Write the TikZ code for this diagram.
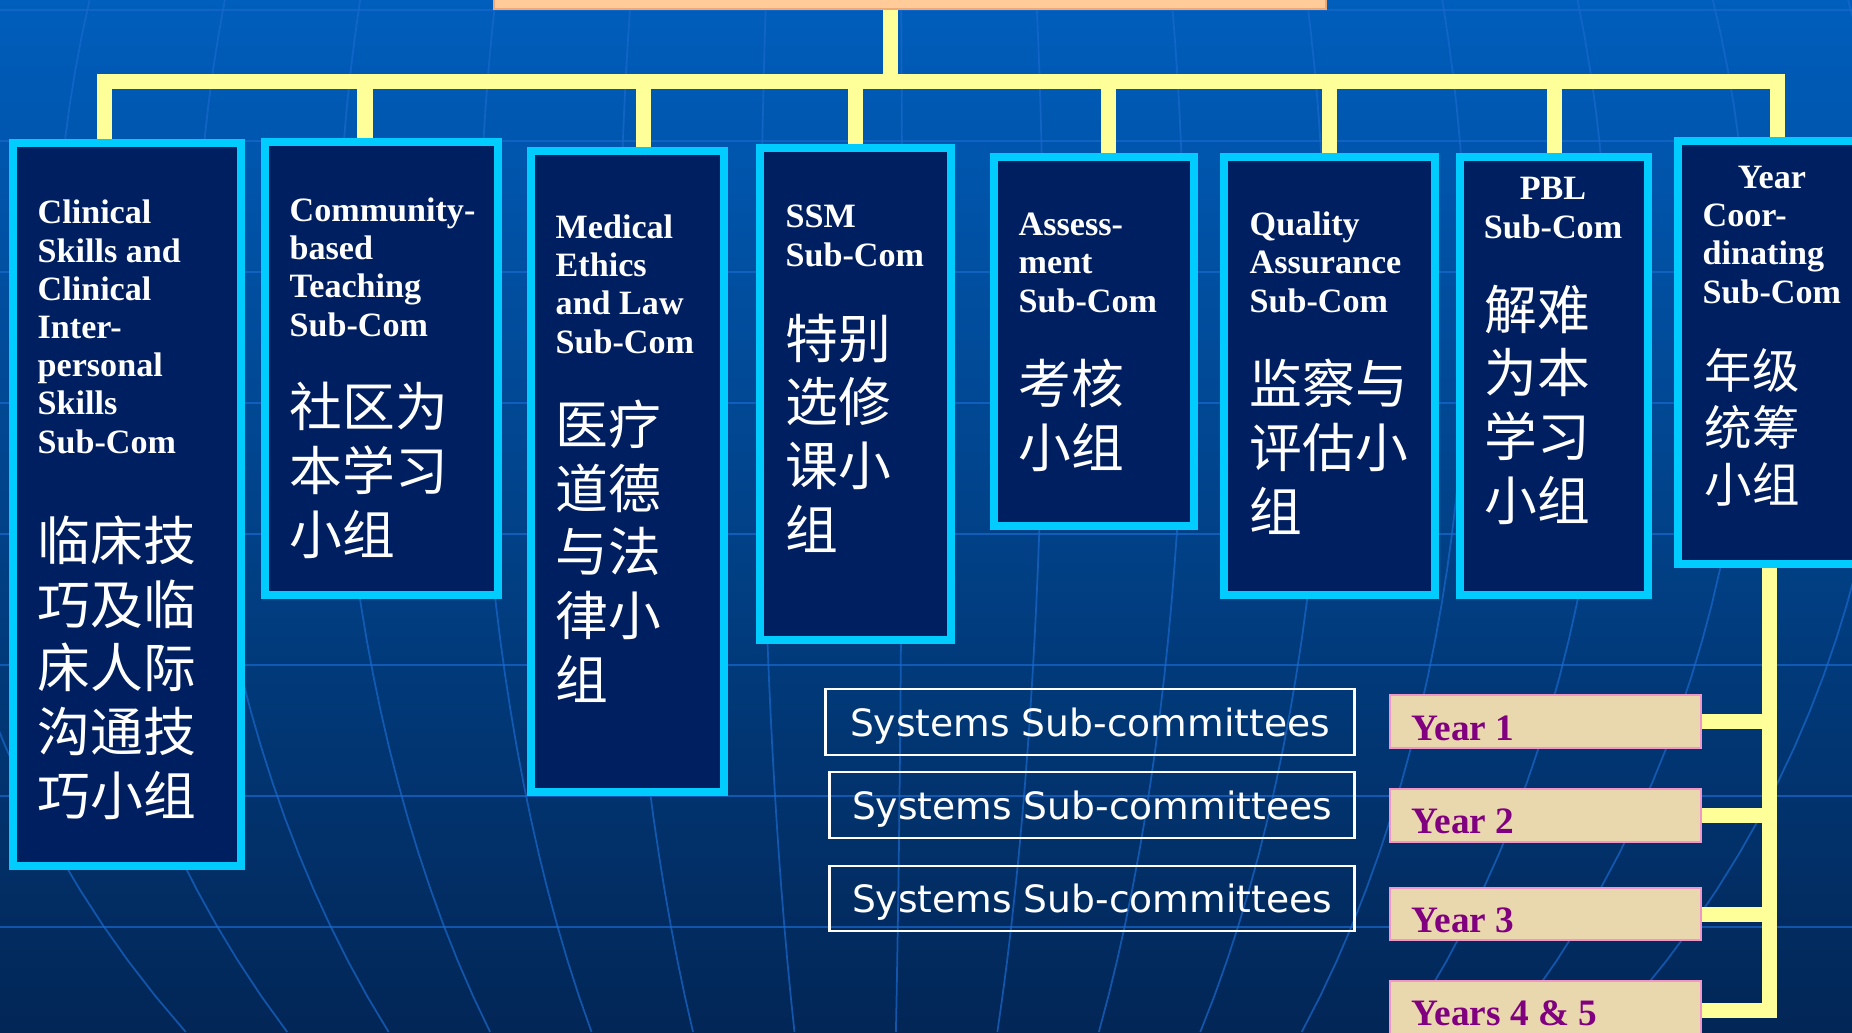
\documentclass[tikz,border=0pt]{standalone}
\usepackage{fontspec}
\usepackage{tikz}
\usetikzlibrary{calc}
\newfontfamily\enfont{Liberation Serif}
\newfontfamily\zhfont{Noto Sans CJK SC}
\newfontfamily\sysfont{DejaVu Sans}

\definecolor{bgtop}{RGB}{0,94,188}
\definecolor{bgbot}{RGB}{2,38,86}
\definecolor{gridblue}{RGB}{25,105,205}
\definecolor{navy}{RGB}{0,31,96}
\definecolor{cyanb}{RGB}{0,204,255}
\definecolor{linkyellow}{RGB}{255,255,153}
\definecolor{peach}{RGB}{255,204,153}
\definecolor{peachb}{RGB}{235,170,120}
\definecolor{sand}{RGB}{233,216,174}
\definecolor{pinkb}{RGB}{240,150,200}
\definecolor{plum}{RGB}{128,0,128}

\tikzset{
  subcom/.style={draw=cyanb, fill=navy, line width=0.08cm, inner sep=0pt},
  entext/.style={text=white, inner sep=0pt, align=left,
    font=\enfont\bfseries\fontsize{9.7}{10.86}\selectfont},
  zhtext/.style={text=white, inner sep=0pt, align=left,
    font=\zhfont\fontsize{15}{18.1}\selectfont},
  sysbox/.style={draw=white, line width=0.8pt, text=white, minimum height=0.66cm,
    inner sep=0pt, text depth=0pt, font=\sysfont\fontsize{10.7}{12}\selectfont},
  yearbox/.style={draw=pinkb, fill=sand, line width=0.6pt, minimum width=3.11cm, inner sep=0pt},
  yeartext/.style={text=plum, inner sep=0pt, font=\enfont\bfseries\fontsize{10.6}{12}\selectfont},
  link/.style={draw=linkyellow, line width=0.15cm},
}

\begin{document}
\begin{tikzpicture}[x=0.01cm, y=-0.01cm]
    \useasboundingbox (0,0) rectangle (1852,1032);
    \clip (0,0) rectangle (1852,1032);

    % backdrop
    \fill[top color=bgtop, bottom color=bgbot] (0,0) rectangle (1852,1032);
    \begin{scope}[draw=gridblue, line width=0.5pt, opacity=0.7]
        \foreach \yy in {10,141,...,1060}
            \draw (0,\yy) -- (1852,\yy);
        \foreach \s in {-0.917,-0.783,...,0.96}
            \draw plot[domain=0:1032, samples=30, variable=\t]
                ({100*(8.8+\s*sqrt(110.9-(\t/100-3)^2))}, \t);
    \end{scope}

    % top box (cut off)
    \node[draw=peachb, fill=peach, line width=0.6pt, minimum width=8.32cm, minimum height=0.7cm] (top) at (910,-26) {};

    % sub-committees
    \node[subcom, minimum width=2.28cm, minimum height=7.23cm] (clin) at (127,504.5) {};
    \node[subcom, minimum width=2.33cm, minimum height=4.53cm] (comm) at (381.5,368.5) {};
    \node[subcom, minimum width=1.93cm, minimum height=6.41cm] (med) at (627.5,471.5) {};
    \node[subcom, minimum width=1.91cm, minimum height=4.92cm] (ssm) at (855.5,394) {};
    \node[subcom, minimum width=2.00cm, minimum height=3.69cm] (assm) at (1094,341.5) {};
    \node[subcom, minimum width=2.11cm, minimum height=4.38cm] (qa) at (1329.5,376) {};
    \node[subcom, minimum width=1.88cm, minimum height=4.38cm] (pbl) at (1554,376) {};
    \node[subcom, minimum width=1.88cm, minimum height=4.23cm] (yrco) at (1772,352.5) {};

    % texts sit on the baseline of their last line
    \node[entext, anchor=base west] (clin-en) at (37,453) {Clinical\\Skills and\\Clinical\\Inter-\\personal\\Skills\\Sub-Com};
    \node[zhtext, anchor=base west] (clin-zh) at (37,815) {临床技\\巧及临\\床人际\\沟通技\\巧小组};
    \node[entext, anchor=base west] (comm-en) at (289,336) {Community-\\based\\Teaching\\Sub-Com};
    \node[zhtext, anchor=base west] (comm-zh) at (289,554) {社区为\\本学习\\小组};
    \node[entext, anchor=base west] (med-en) at (555,353) {Medical\\Ethics\\and Law\\Sub-Com};
    \node[zhtext, anchor=base west] (med-zh) at (555,699) {医疗\\道德\\与法\\律小\\组};
    \node[entext, anchor=base west] (ssm-en) at (785,266) {SSM\\Sub-Com};
    \node[zhtext, anchor=base west] (ssm-zh) at (785,549) {特别\\选修\\课小\\组};
    \node[entext, anchor=base west] (assm-en) at (1018,312) {Assess-\\ment\\Sub-Com};
    \node[zhtext, anchor=base west] (assm-zh) at (1018,467) {考核\\小组};
    \node[entext, anchor=base west] (qa-en) at (1249,312) {Quality\\Assurance\\Sub-Com};
    \node[zhtext, anchor=base west] (qa-zh) at (1249,531) {监察与\\评估小\\组};
    \node[entext, align=center, anchor=base] (pbl-en) at (1553,238) {PBL\\Sub-Com};
    \node[zhtext, anchor=base west] (pbl-zh) at (1484,520) {解难\\为本\\学习\\小组};
    \node[entext, anchor=base west] (yrco-en) at (1702,303) {\hspace*{0.35cm}Year\\Coor-\\dinating\\Sub-Com};
    \node[zhtext, anchor=base west, font=\zhfont\fontsize{13.5}{16.2}\selectfont] (yrco-zh) at (1704,502) {年级\\统筹\\小组};

    % tree links
    \coordinate (hub) at (890,81);
    \draw[link] (top.south -| hub) -- (hub);
    \draw[link] ([xshift=-0.22cm]clin.north) |- (hub) -| ([xshift=0.05cm]yrco.north);
    \draw[link] ([xshift=-0.165cm]comm.north) -- ([xshift=-0.165cm]comm.north |- hub);
    \draw[link] ([xshift=0.155cm]med.north) -- ([xshift=0.155cm]med.north |- hub);
    \draw[link] (ssm.north) -- (ssm.north |- hub);
    \draw[link] ([xshift=0.14cm]assm.north) -- ([xshift=0.14cm]assm.north |- hub);
    \draw[link] (qa.north) -- (qa.north |- hub);
    \draw[link] (pbl.north) -- (pbl.north |- hub);

    % systems
    \node[sysbox, minimum width=5.28cm] (sys1) at (1090,722) {Systems Sub-committees};
    \node[sysbox, minimum width=5.24cm] (sys2) at (1092,805) {Systems Sub-committees};
    \node[sysbox, minimum width=5.24cm, minimum height=0.65cm] (sys3) at (1092,898.5) {Systems Sub-committees};

    % years
    \node[yearbox, minimum height=0.53cm] (y1) at (1545.5,721.5) {};
    \node[yearbox, minimum height=0.53cm] (y2) at (1545.5,815.5) {};
    \node[yearbox, minimum height=0.52cm] (y3) at (1545.5,914) {};
    \node[yearbox, minimum height=0.59cm] (y45) at (1545.5,1010.5) {};
    \node[yeartext, anchor=base west] (y1-t) at (1411,740) {Year 1};
    \node[yeartext, anchor=base west] (y2-t) at (1411,833) {Year 2};
    \node[yeartext, anchor=base west] (y3-t) at (1411,932) {Year 3};
    \node[yeartext, anchor=base west] (y45-t) at (1411,1025) {Years 4 \& 5};

    \coordinate (ystem) at ([xshift=-0.03cm]yrco.south);
    \draw[link] (ystem) |- (y45.east);
    \draw[link] (y1.east) -- (y1.east -| ystem);
    \draw[link] (y2.east) -- (y2.east -| ystem);
    \draw[link] (y3.east) -- (y3.east -| ystem);
\end{tikzpicture}
\end{document}
